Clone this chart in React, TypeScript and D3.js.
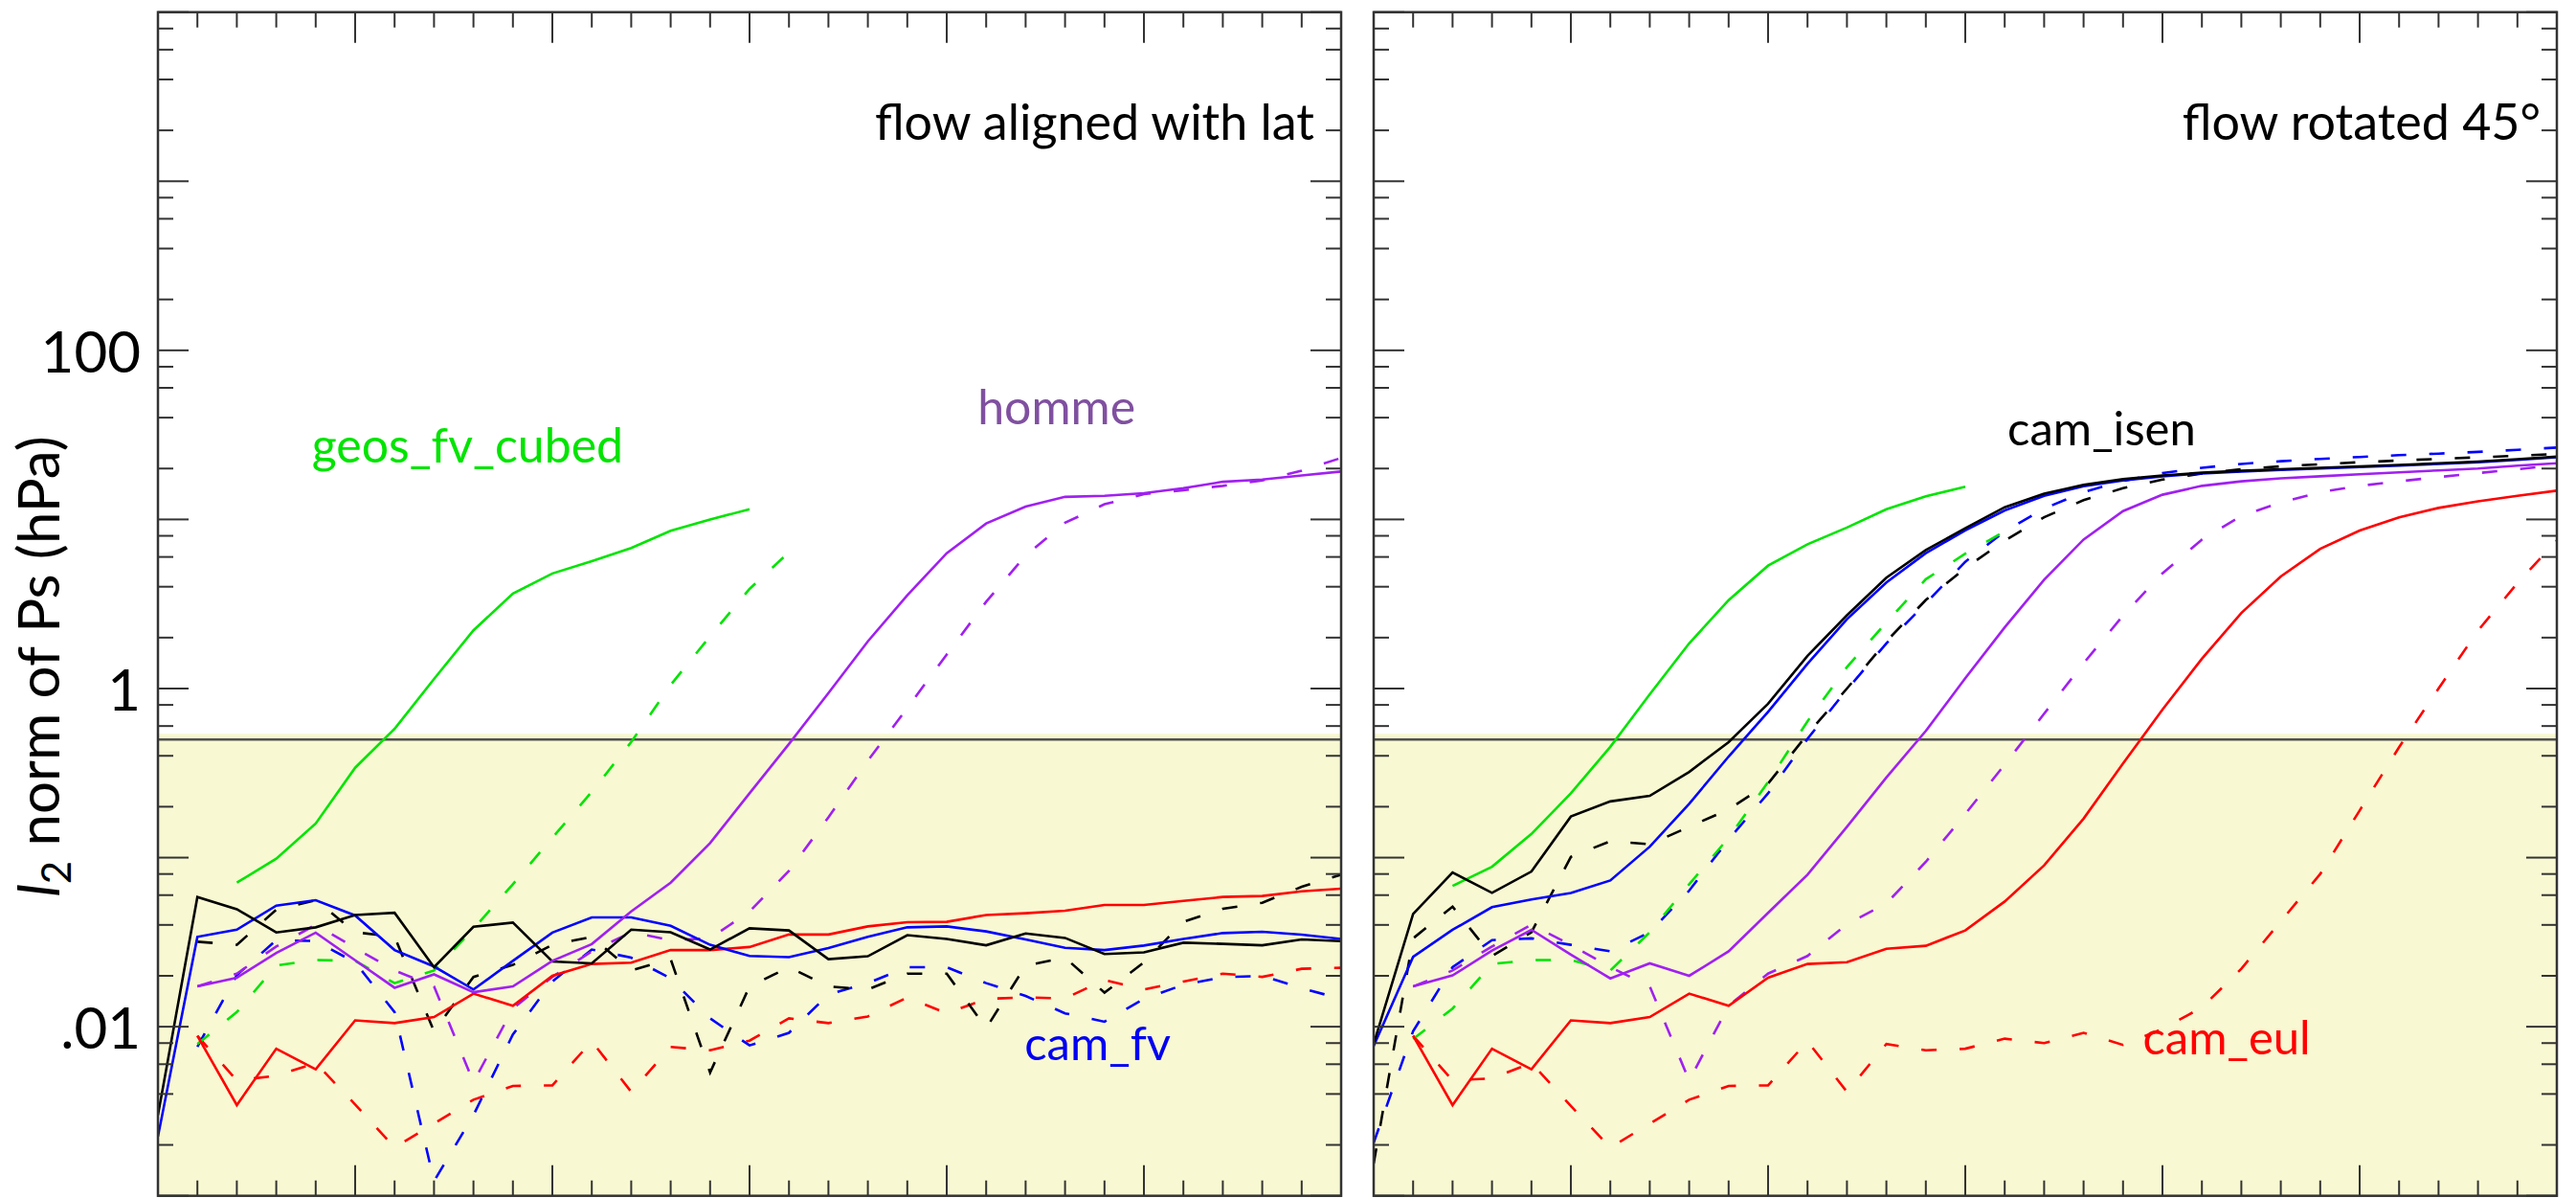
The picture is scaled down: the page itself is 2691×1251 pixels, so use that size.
import React from "react";
import * as d3 from "d3";

// ---------- layout / styling ----------
const W = 2691;
const H = 1251;
const TOP = 12.7;
const BOTTOM = 1248.7;
const LEFT_PANEL = [165, 1401];
const RIGHT_PANEL = [1435, 2671];
const FONT = "Lato, 'Open Sans', 'DejaVu Sans', sans-serif";

// ---------- axes ----------
const X_DOMAIN = [0, 30];
const Y_DOMAIN = [1e-3, 1e4];
const THRESHOLD = 0.5;
const BAND_TOP = 0.54;
const Y_TICK_LABELS = [
  { v: 100, t: "100" },
  { v: 1, t: "1" },
  { v: 0.01, t: ".01" },
];

// ---------- models ----------
const MODEL_COLORS: Record<string, string> = {
  cam_isen: "#000000",
  cam_fv: "#0000ff",
  cam_eul: "#ff0000",
  geos_fv_cubed: "#00e400",
  homme: "#a020f0",
};
const LABEL_COLORS: Record<string, string> = {
  cam_isen: "#000000",
  cam_fv: "#0000f0",
  cam_eul: "#ff0000",
  geos_fv_cubed: "#00e400",
  homme: "#8050a0",
};

// ---------- data: left panel (flow aligned with lat) ----------
const leftCamIsenSolid = [0.003, 0.0585, 0.0495, 0.0361, 0.0387, 0.0458, 0.0472, 0.0225, 0.039, 0.0413, 0.0243, 0.0237, 0.0375, 0.0362, 0.0286, 0.0382, 0.0371, 0.0251, 0.0261, 0.0348, 0.033, 0.0303, 0.0356, 0.0335, 0.0269, 0.0275, 0.0314, 0.0309, 0.0303, 0.0328, 0.0321];
const leftCamIsenDashed = [0.0318, 0.0305, 0.0492, 0.056, 0.0362, 0.034, 0.0094, 0.0197, 0.0232, 0.0305, 0.034, 0.0215, 0.0251, 0.00536, 0.0173, 0.0225, 0.0173, 0.0166, 0.0206, 0.0206, 0.0098, 0.023, 0.0256, 0.0159, 0.024, 0.0417, 0.0498, 0.0541, 0.0672, 0.0792];
const leftCamFvSolid = [0.00224, 0.034, 0.0375, 0.052, 0.056, 0.0455, 0.0284, 0.0227, 0.0166, 0.0245, 0.036, 0.0443, 0.0443, 0.0395, 0.0305, 0.0262, 0.0258, 0.0292, 0.034, 0.0387, 0.0392, 0.0366, 0.0328, 0.0293, 0.0284, 0.0302, 0.033, 0.0358, 0.0364, 0.035, 0.033];
const leftCamFvDashed = [0.0076, 0.0202, 0.0325, 0.0321, 0.024, 0.0122, 0.00122, 0.003, 0.009, 0.0185, 0.0286, 0.0256, 0.0193, 0.0112, 0.00775, 0.0092, 0.0155, 0.0181, 0.0225, 0.0225, 0.0181, 0.0152, 0.012, 0.0107, 0.0146, 0.0177, 0.0196, 0.02, 0.0169, 0.0146];
const leftCamEulSolid = [0.00883, 0.00344, 0.00741, 0.0056, 0.0109, 0.0105, 0.0114, 0.0157, 0.0133, 0.02, 0.0235, 0.0239, 0.0284, 0.0284, 0.0296, 0.0351, 0.0351, 0.0392, 0.0415, 0.0417, 0.0458, 0.0469, 0.0485, 0.0525, 0.0525, 0.0555, 0.0585, 0.0593, 0.0632, 0.0655];
const leftCamEulDashed = [0.00883, 0.00481, 0.00513, 0.0061, 0.00347, 0.00193, 0.00267, 0.0037, 0.00446, 0.0045, 0.0082, 0.00412, 0.00759, 0.00726, 0.00827, 0.0112, 0.0105, 0.0115, 0.0149, 0.012, 0.0146, 0.0149, 0.0147, 0.0189, 0.0166, 0.0185, 0.0206, 0.0197, 0.022, 0.0223];
const leftGeosSolid = [0.0711, 0.0986, 0.159, 0.34, 0.578, 1.14, 2.21, 3.64, 4.79, 5.67, 6.78, 8.57, 9.98, 11.5];
const leftGeosDashed = [0.0079, 0.0122, 0.023, 0.0248, 0.0245, 0.0181, 0.0215, 0.0379, 0.0696, 0.131, 0.245, 0.483, 1.05, 2.04, 3.88, 6.4];
const leftHommeSolid = [0.0173, 0.0195, 0.0273, 0.036, 0.0247, 0.017, 0.0204, 0.016, 0.0173, 0.0245, 0.0308, 0.0481, 0.0711, 0.122, 0.24, 0.47, 0.94, 1.9, 3.56, 6.31, 9.46, 11.9, 13.6, 13.8, 14.3, 15.3, 16.7, 17.2, 18.2, 19.2];
const leftHommeDashed = [0.0173, 0.0206, 0.0298, 0.0401, 0.0292, 0.0215, 0.0173, 0.0047, 0.0128, 0.0197, 0.0279, 0.0362, 0.0325, 0.0333, 0.048, 0.0835, 0.173, 0.374, 0.767, 1.59, 3.26, 6.12, 9.55, 12.3, 14.1, 14.9, 15.8, 17.0, 19.4, 23.1];

// ---------- data: right panel (flow rotated 45°) ----------
const rightCamIsenSolid = [0.0079, 0.0464, 0.0817, 0.0619, 0.0828, 0.175, 0.215, 0.232, 0.321, 0.482, 0.813, 1.56, 2.71, 4.52, 6.59, 8.87, 11.8, 14.2, 16.0, 17.3, 18.2, 18.9, 19.4, 19.8, 20.2, 20.6, 21.0, 21.5, 22.0, 22.7, 23.5];
const rightCamIsenDashed = [0.00155, 0.0333, 0.0513, 0.0262, 0.0362, 0.101, 0.125, 0.12, 0.152, 0.193, 0.274, 0.537, 1.0, 1.9, 3.34, 5.15, 7.5, 10.3, 13.0, 15.3, 17.2, 18.7, 19.8, 20.6, 21.2, 21.8, 22.3, 22.8, 23.3, 23.8, 24.4];
const rightCamFvSolid = [0.0077, 0.0259, 0.0374, 0.0509, 0.0565, 0.0617, 0.0733, 0.116, 0.208, 0.396, 0.728, 1.4, 2.57, 4.24, 6.32, 8.61, 11.3, 13.8, 15.7, 17.0, 18.0, 18.7, 19.2, 19.6, 20.0, 20.4, 20.8, 21.3, 21.8, 22.5, 23.3];
const rightCamFvDashed = [0.00206, 0.0094, 0.0225, 0.0325, 0.0333, 0.0305, 0.0279, 0.0362, 0.0638, 0.128, 0.24, 0.504, 0.986, 1.85, 3.19, 5.62, 8.5, 11.6, 14.5, 16.9, 18.8, 20.2, 21.3, 22.1, 22.8, 23.4, 24.0, 24.5, 25.1, 25.8, 26.6];
const rightCamEulSolid = [0.00883, 0.00344, 0.00741, 0.0056, 0.0109, 0.0105, 0.0114, 0.0157, 0.0133, 0.0195, 0.0235, 0.0241, 0.0289, 0.0301, 0.0371, 0.055, 0.09, 0.17, 0.36, 0.75, 1.5, 2.8, 4.6, 6.7, 8.6, 10.3, 11.7, 12.8, 13.8, 14.8];
const rightCamEulDashed = [0.00883, 0.00481, 0.00495, 0.0061, 0.0034, 0.00193, 0.00267, 0.0037, 0.00446, 0.0045, 0.0082, 0.00412, 0.0079, 0.00726, 0.00741, 0.0085, 0.008, 0.0092, 0.0078, 0.0097, 0.013, 0.022, 0.042, 0.08, 0.19, 0.45, 1.0, 2.2, 4.2, 7.5];
const rightGeosSolid = [0.068, 0.0883, 0.138, 0.24, 0.452, 0.925, 1.85, 3.33, 5.33, 7.13, 8.95, 11.5, 13.7, 15.6];
const rightGeosDashed = [0.00845, 0.0128, 0.0235, 0.0248, 0.0248, 0.0215, 0.0362, 0.0696, 0.131, 0.28, 0.64, 1.34, 2.46, 4.43, 6.27, 8.5];
const rightHommeSolid = [0.0173, 0.0201, 0.0282, 0.0374, 0.0267, 0.0193, 0.0237, 0.02, 0.0279, 0.0471, 0.0792, 0.152, 0.298, 0.561, 1.15, 2.3, 4.4, 7.6, 11.2, 14.0, 15.8, 16.8, 17.5, 18.0, 18.5, 19.0, 19.5, 20.0, 20.8, 21.5];
const rightHommeDashed = [0.0173, 0.0215, 0.0298, 0.0401, 0.0305, 0.0225, 0.0173, 0.00481, 0.0133, 0.0206, 0.0262, 0.0404, 0.0536, 0.0944, 0.181, 0.355, 0.71, 1.41, 2.7, 4.8, 7.6, 10.5, 12.6, 14.5, 15.8, 16.8, 17.8, 18.8, 19.8, 21.0];

type Series = { model: string; dashed: boolean; start: number; values: number[] };

const LEFT_SERIES: Series[] = [
  { model: "cam_eul", dashed: true, start: 1, values: leftCamEulDashed },
  { model: "cam_fv", dashed: true, start: 1, values: leftCamFvDashed },
  { model: "cam_isen", dashed: true, start: 1, values: leftCamIsenDashed },
  { model: "geos_fv_cubed", dashed: true, start: 1, values: leftGeosDashed },
  { model: "homme", dashed: true, start: 1, values: leftHommeDashed },
  { model: "cam_eul", dashed: false, start: 1, values: leftCamEulSolid },
  { model: "cam_fv", dashed: false, start: 0, values: leftCamFvSolid },
  { model: "cam_isen", dashed: false, start: 0, values: leftCamIsenSolid },
  { model: "geos_fv_cubed", dashed: false, start: 2, values: leftGeosSolid },
  { model: "homme", dashed: false, start: 1, values: leftHommeSolid },
];

const RIGHT_SERIES: Series[] = [
  { model: "cam_eul", dashed: true, start: 1, values: rightCamEulDashed },
  { model: "cam_fv", dashed: true, start: 0, values: rightCamFvDashed },
  { model: "cam_isen", dashed: true, start: 0, values: rightCamIsenDashed },
  { model: "geos_fv_cubed", dashed: true, start: 1, values: rightGeosDashed },
  { model: "homme", dashed: true, start: 1, values: rightHommeDashed },
  { model: "cam_eul", dashed: false, start: 1, values: rightCamEulSolid },
  { model: "homme", dashed: false, start: 1, values: rightHommeSolid },
  { model: "geos_fv_cubed", dashed: false, start: 2, values: rightGeosSolid },
  { model: "cam_fv", dashed: false, start: 0, values: rightCamFvSolid },
  { model: "cam_isen", dashed: false, start: 0, values: rightCamIsenSolid },
];

type Label = { text: string; model: string; day: number; value: number; size: number };
const LEFT_LABELS: Label[] = [
  { text: "geos_fv_cubed", model: "geos_fv_cubed", day: 3.9, value: 21.7, size: 50 },
  { text: "homme", model: "homme", day: 20.78, value: 36.6, size: 50 },
  { text: "cam_fv", model: "cam_fv", day: 21.97, value: 0.00635, size: 49 },
];
const RIGHT_LABELS: Label[] = [
  { text: "cam_isen", model: "cam_isen", day: 16.07, value: 27.4, size: 49 },
  { text: "cam_eul", model: "cam_eul", day: 19.5, value: 0.0069, size: 49 },
];

const yScale = d3.scaleLog().domain(Y_DOMAIN).range([BOTTOM, TOP]);

function minorYTicks(): { v: number; major: boolean }[] {
  const out: { v: number; major: boolean }[] = [];
  for (let e = -3; e <= 4; e++) {
    out.push({ v: Math.pow(10, e), major: true });
    if (e < 4) for (const m of [2, 4, 6, 8]) out.push({ v: m * Math.pow(10, e), major: false });
  }
  return out;
}

function Panel({
  range,
  series,
  labels,
  title,
  titleRightPad,
  id,
}: {
  range: number[];
  series: Series[];
  labels: Label[];
  title: string;
  titleRightPad: number;
  id: string;
}) {
  const x = d3.scaleLinear().domain(X_DOMAIN).range(range);
  const [x0, x1] = range;
  const yTicks = minorYTicks();
  const xTicks = d3.range(X_DOMAIN[0], X_DOMAIN[1] + 1);
  const axisColor = "#333";
  return (
    <g>
      <defs>
        <clipPath id={id}>
          <rect x={x0} y={TOP} width={x1 - x0} height={BOTTOM - TOP} />
        </clipPath>
      </defs>
      <rect x={x0} y={yScale(BAND_TOP)} width={x1 - x0} height={BOTTOM - yScale(BAND_TOP)} fill="#f8f8d2" />
      <line x1={x0} x2={x1} y1={yScale(THRESHOLD)} y2={yScale(THRESHOLD)} stroke="#505050" strokeWidth={2.5} />
      <g clipPath={`url(#${id})`}>
        {series.map((s, i) => {
          const gen = d3
            .line<number>()
            .x((_, k) => x(s.start + k))
            .y((d) => yScale(d));
          return (
            <path
              key={i}
              d={gen(s.values) || ""}
              fill="none"
              stroke={MODEL_COLORS[s.model]}
              strokeWidth={2.6}
              strokeDasharray={s.dashed ? "16 24" : undefined}
            />
          );
        })}
      </g>
      {yTicks.map((t, i) => {
        const yy = yScale(t.v);
        const len = t.major ? 32 : 16;
        return (
          <g key={"y" + i} stroke={axisColor} strokeWidth={2}>
            <line x1={x0} x2={x0 + len} y1={yy} y2={yy} />
            <line x1={x1} x2={x1 - len} y1={yy} y2={yy} />
          </g>
        );
      })}
      {xTicks.map((d) => {
        const xx = x(d);
        const len = d % 5 === 0 ? 32 : 16;
        return (
          <g key={"x" + d} stroke={axisColor} strokeWidth={2}>
            <line x1={xx} x2={xx} y1={BOTTOM} y2={BOTTOM - len} />
            <line x1={xx} x2={xx} y1={TOP} y2={TOP + len} />
          </g>
        );
      })}
      <rect x={x0} y={TOP} width={x1 - x0} height={BOTTOM - TOP} fill="none" stroke={axisColor} strokeWidth={2.5} />
      <text x={x1 - titleRightPad} y={TOP + 133} textAnchor="end" fontSize={52} fontFamily={FONT} fill="#000">
        {title}
      </text>
      {labels.map((l, i) => (
        <text key={"l" + i} x={x(l.day)} y={yScale(l.value)} fontSize={l.size} fontFamily={FONT} fill={LABEL_COLORS[l.model]}>
          {l.text}
        </text>
      ))}
    </g>
  );
}

export default function App() {
  return (
    <>
      <style>{`html,body{margin:0;padding:0;background:#fff;}`}</style>
      <svg width={W} height={H} viewBox={`0 0 ${W} ${H}`} style={{ display: "block" }}>
        <rect x={0} y={0} width={W} height={H} fill="#fff" />
        {Y_TICK_LABELS.map((t) => (
          <text
            key={t.t}
            x={147}
            y={yScale(t.v)}
            textAnchor="end"
            dominantBaseline="central"
            fontSize={60}
            fontFamily={FONT}
            fill="#000"
          >
            {t.t}
          </text>
        ))}
        <text transform={`translate(62,696) rotate(-90)`} textAnchor="middle" fontSize={60} fontFamily={FONT} fill="#000">
          <tspan fontStyle="italic">l</tspan>
          <tspan fontSize={42} dy={12}>2</tspan>
          <tspan dy={-12}> norm of Ps (hPa)</tspan>
        </text>
        <Panel range={LEFT_PANEL} series={LEFT_SERIES} labels={LEFT_LABELS} title="flow aligned with lat" titleRightPad={28} id="clipL" />
        <Panel range={RIGHT_PANEL} series={RIGHT_SERIES} labels={RIGHT_LABELS} title="flow rotated 45°" titleRightPad={17} id="clipR" />
      </svg>
    </>
  );
}
